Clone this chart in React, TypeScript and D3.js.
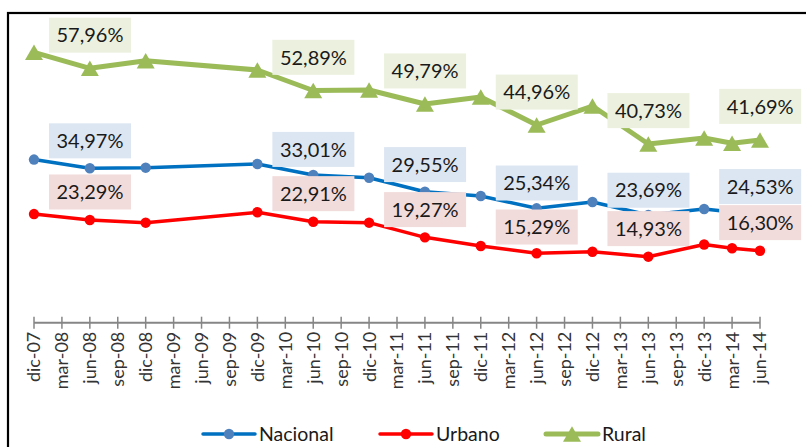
import React from "react";
import * as d3 from "d3";

const categories = [
  "dic-07","mar-08","jun-08","sep-08","dic-08","mar-09","jun-09","sep-09","dic-09",
  "mar-10","jun-10","sep-10","dic-10","mar-11","jun-11","sep-11","dic-11","mar-12",
  "jun-12","sep-12","dic-12","mar-13","jun-13","sep-13","dic-13","mar-14","jun-14",
];

const pointDates = [
  "dic-07","jun-08","dic-08","dic-09","jun-10","dic-10","jun-11","dic-11",
  "jun-12","dic-12","jun-13","dic-13","mar-14","jun-14",
];

const nacional = [34.97,33.10,33.23,34.02,31.66,31.08,28.08,27.16,24.52,25.87,23.09,24.37,23.73,23.30];
const urbano   = [23.29,22.02,21.44,23.67,21.65,21.44,18.30,16.44,14.88,15.22,14.15,16.76,15.95,15.43];
const rural    = [57.96,54.53,56.16,54.17,49.78,49.88,46.88,48.38,42.38,46.45,38.31,39.59,38.46,39.16];

const labelDates = ["dic-07","dic-09","dic-10","dic-11","dic-12","dic-13"];
const labelNacional = [34.97,33.01,29.55,25.34,23.69,24.53];
const labelUrbano   = [23.29,22.91,19.27,15.29,14.93,16.30];
const labelRural    = [57.96,52.89,49.79,44.96,40.73,41.69];

const seriesNames = ["Nacional","Urbano","Rural"];

const W = 806, H = 447;
const FONT = "Lato, 'Open Sans', sans-serif";

const fmt = (v: number) => v.toFixed(2).replace(".", ",") + "%";

function Triangle({ x, y, s, fill }: { x: number; y: number; s: number; fill: string }) {
  const h = (s * Math.sqrt(3)) / 2;
  return <path d={`M${x},${y - h / 2}L${x + s / 2},${y + h / 2}L${x - s / 2},${y + h / 2}Z`} fill={fill} />;
}

export default function App() {
  const x = d3.scalePoint<string>().domain(categories).range([34, 760]);
  const y = d3.scaleLinear().domain([0, 60]).range([322.7, 42.8]);
  const labelY = d3.scaleLinear().domain([0, 60]).range([294, 31.2]);

  const line = d3.line<[string, number]>().x(d => x(d[0])!).y(d => y(d[1]));

  const series = [
    { name: seriesNames[0], vals: nacional, stroke: "#0070C0", marker: "#4F81BD", width: 3.5, type: "circle", labels: labelNacional, box: "#DCE6F2", dy: 0 },
    { name: seriesNames[1], vals: urbano, stroke: "#FF0000", marker: "#FF0000", width: 3.5, type: "circle", labels: labelUrbano, box: "#F2DCDB", dy: 0 },
    { name: seriesNames[2], vals: rural, stroke: "#9BBB59", marker: "#9BBB59", width: 5, type: "tri", labels: labelRural, box: "#EBF1DE", dy: -5 },
  ];

  const axisY = y(0);
  const boxW = 82, boxH = 35;

  const legendItems = [
    { x0: 203, tx: 259, s: series[0] },
    { x0: 380, tx: 436, s: series[1] },
    { x0: 546, tx: 602, s: series[2] },
  ];

  return (
    <svg width={W} height={H} style={{ position: "absolute", left: 0, top: 0, background: "#fff" }}>
      <rect x={0} y={0} width={W} height={H} fill="#fff" />
      <rect x={8} y={13} width={820} height={460} fill="none" stroke="#000" strokeWidth={2.2} />

      {/* axis */}
      <line x1={x(categories[0])} x2={x(categories[categories.length - 1])} y1={axisY} y2={axisY} stroke="#868686" strokeWidth={2} />
      {categories.map(c => (
        <g key={c}>
          <line x1={x(c)} x2={x(c)} y1={axisY - 6} y2={axisY + 6} stroke="#868686" strokeWidth={1.5} />
          <text
            transform={`translate(${x(c)},${axisY + 9}) rotate(-90)`}
            textAnchor="end"
            dy="0.36em"
            fontFamily={FONT}
            fontSize={18}
            fill="#333"
          >{c}</text>
        </g>
      ))}

      {/* series */}
      {series.map(s => {
        const pts: [string, number][] = pointDates.map((d, i) => [d, s.vals[i]]);
        return (
          <g key={s.name}>
            <path d={line(pts)!} fill="none" stroke={s.stroke} strokeWidth={s.width} strokeLinejoin="round" />
            {pts.map((p, i) =>
              s.type === "circle" ? (
                <circle key={i} cx={x(p[0])} cy={y(p[1])} r={5.2} fill={s.marker} />
              ) : (
                <Triangle key={i} x={x(p[0])!} y={y(p[1])} s={18} fill={s.marker} />
              )
            )}
          </g>
        );
      })}

      {/* data labels */}
      {series.map(s => (
        <g key={s.name + "-lab"}>
          {labelDates.map((d, i) => {
            const bx = x(d)! + 15;
            const cy = labelY(s.labels[i]) + s.dy;
            return (
              <g key={d}>
                <rect x={bx} y={cy - boxH / 2} width={boxW} height={boxH} fill={s.box} />
                <text x={bx + boxW / 2} y={cy} dy="0.36em" textAnchor="middle" fontFamily={FONT} fontSize={20} fill="#1a1a1a">
                  {fmt(s.labels[i])}
                </text>
              </g>
            );
          })}
        </g>
      ))}

      {/* legend */}
      {legendItems.map(li => {
        const ly = 434;
        const mid = (li.x0 + li.x0 + 52) / 2;
        return (
          <g key={li.s.name}>
            <line x1={li.x0} x2={li.x0 + 52} y1={ly} y2={ly} stroke={li.s.stroke} strokeWidth={li.s.width} strokeLinecap="round" />
            {li.s.type === "circle" ? (
              <circle cx={mid} cy={ly} r={5.2} fill={li.s.marker} />
            ) : (
              <Triangle x={mid} y={ly} s={18} fill={li.s.marker} />
            )}
            <text x={li.tx} y={ly} dy="0.36em" fontFamily={FONT} fontSize={19.5} fill="#1a1a1a">{li.s.name}</text>
          </g>
        );
      })}
    </svg>
  );
}
